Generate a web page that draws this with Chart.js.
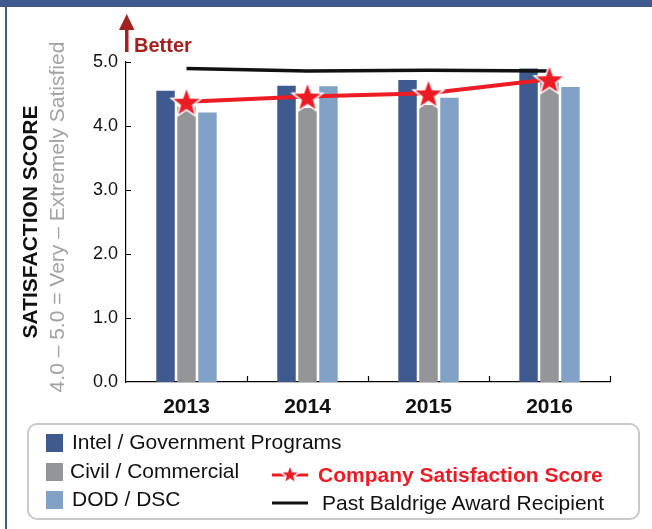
<!DOCTYPE html>
<html>
<head>
<meta charset="utf-8">
<script src="https://cdn.jsdelivr.net/npm/chart.js@4.4.1/dist/chart.umd.min.js"></script>
<style>
  body { margin: 0; background: #fff; font-family: "Liberation Sans", Arial, sans-serif; }
  #wrap { position: relative; width: 652px; height: 529px; overflow: hidden; }
  #topband { position: absolute; left: 0; top: 0; width: 652px; height: 7px; background: #3f5a8e; }
  #leftline { position: absolute; left: 5px; top: 0; width: 2px; height: 529px; background: #3f5a8e; }
  #legend { position: absolute; left: 27px; top: 423px; width: 609px; height: 93px;
            border: 2px solid #c9c9c9; border-radius: 10px; }
  .item { position: absolute; font-size: 21px; line-height: 24px; white-space: nowrap; color: #111; }
  .swatch { position: absolute; width: 17px; height: 18px; }
</style>
</head>
<body>
<div id="wrap">
  <canvas id="chart" width="652" height="529"></canvas>
  <div id="topband"></div>
  <div id="leftline"></div>
  <div id="legend"></div>
</div>
<script>
// Données
const years = ['2013', '2014', '2015', '2016'];
const intelGov = [4.55, 4.63, 4.72, 4.90];
const civilCommercial = [4.30, 4.28, 4.33, 4.69];
const dodDsc = [4.21, 4.62, 4.44, 4.61];
const companyScore = [4.38, 4.46, 4.51, 4.73];
const baldrigeRecipient = [4.90, 4.86, 4.87, 4.86];
const yTicks = [0, 1, 2, 3, 4, 5];

const FONT = '"Liberation Sans", Arial, sans-serif';
const RED = '#ed1c24';

// Étoile rouge avec contour blanc pour les points
function makeStar(outer, inner) {
  const c = document.createElement('canvas');
  const size = outer * 2 + 4;
  c.width = size; c.height = size;
  const g = c.getContext('2d');
  g.beginPath();
  for (let i = 0; i < 10; i++) {
    const r = i % 2 === 0 ? outer : inner;
    const a = -Math.PI / 2 + i * Math.PI / 5;
    const px = size / 2 + r * Math.cos(a), py = size / 2 + 1.5 + r * Math.sin(a);
    if (i === 0) g.moveTo(px, py); else g.lineTo(px, py);
  }
  g.closePath();
  g.fillStyle = RED;
  g.fill();
  g.lineWidth = 1.5;
  g.strokeStyle = '#fff';
  g.stroke();
  return c;
}
const starImg = makeStar(16, 6.6);

// Titres, flèche "Better" et petites graduations vers l'intérieur
const decorations = {
  id: 'decorations',
  afterDraw(chart) {
    const ctx = chart.ctx;
    const x = chart.scales.x, y = chart.scales.y;
    const area = chart.chartArea;
    ctx.save();
    ctx.strokeStyle = '#000';
    ctx.lineWidth = 1.2;
    ctx.beginPath();
    yTicks.forEach(v => {
      if (v === 0) return;
      const py = Math.round(y.getPixelForValue(v)) + 0.5;
      ctx.moveTo(area.left, py);
      ctx.lineTo(area.left + 5, py);
    });
    for (let i = 0; i < years.length; i++) {
      const px = Math.round(x.getPixelForValue(i) + (x.getPixelForValue(1) - x.getPixelForValue(0)) / 2) + 0.5;
      ctx.moveTo(px, area.bottom);
      ctx.lineTo(px, area.bottom - 6);
    }
    ctx.stroke();

    // titres de l'axe Y
    ctx.textAlign = 'center';
    ctx.textBaseline = 'middle';
    ctx.translate(31, 222);
    ctx.rotate(-Math.PI / 2);
    ctx.font = 'bold 21px ' + FONT;
    ctx.fillStyle = '#111';
    ctx.fillText('SATISFACTION SCORE', 0, 0);
    ctx.setTransform(1, 0, 0, 1, 0, 0);
    ctx.translate(58, 217);
    ctx.rotate(-Math.PI / 2);
    ctx.font = '21px ' + FONT;
    ctx.fillStyle = '#a3a3a3';
    ctx.fillText('4.0 \u2013 5.0 = Very \u2013 Extremely Satisfied', 0, 0);
    ctx.setTransform(1, 0, 0, 1, 0, 0);

    // flèche "Better"
    ctx.fillStyle = '#a5211f';
    ctx.fillRect(125, 28, 3.5, 24);
    ctx.beginPath();
    ctx.moveTo(119, 30);
    ctx.lineTo(134.5, 30);
    ctx.lineTo(126.7, 14);
    ctx.closePath();
    ctx.fill();
    ctx.font = 'bold 20px ' + FONT;
    ctx.textAlign = 'left';
    ctx.textBaseline = 'alphabetic';
    ctx.fillText('Better', 134, 52);
    ctx.restore();
  }
};

const config = {
  type: 'bar',
  data: {
    labels: years,
    datasets: [
      {
        type: 'line',
        label: 'Company Satisfaction Score',
        data: companyScore,
        borderColor: RED,
        borderWidth: 4,
        pointStyle: starImg,
        pointRadius: 16,
        order: 1
      },
      {
        type: 'line',
        label: 'Past Baldrige Award Recipient',
        data: baldrigeRecipient,
        borderColor: '#111',
        borderWidth: 3.5,
        pointRadius: 0,
        order: 2
      },
      { label: 'Intel / Government Programs', data: intelGov, backgroundColor: '#3f5a8e', order: 3 },
      { label: 'Civil / Commercial', data: civilCommercial, backgroundColor: '#939598', order: 3 },
      { label: 'DOD / DSC', data: dodDsc, backgroundColor: '#81a1c7', order: 3 }
    ]
  },
  options: {
    responsive: false,
    animation: false,
    categoryPercentage: 0.52,
    barPercentage: 0.88,
    layout: { padding: { top: 62, right: 42, left: 0, bottom: 0 } },
    plugins: {
      legend: { display: false },
      tooltip: { enabled: false }
    },
    scales: {
      x: {
        grid: { display: false, drawTicks: false },
        border: { display: true, color: '#000', width: 1.2 },
        ticks: { color: '#111', font: { family: FONT, size: 21, weight: 'bold' }, padding: 13 },
        afterFit(scale) { scale.height = 147; }
      },
      y: {
        min: 0,
        max: 5,
        grid: { display: false, drawTicks: false },
        border: { display: true, color: '#000', width: 1.2 },
        afterBuildTicks(scale) { scale.ticks = yTicks.map(v => ({ value: v })); },
        ticks: {
          color: '#111',
          font: { family: FONT, size: 18 },
          padding: 8,
          callback: v => v.toFixed(1)
        },
        afterFit(scale) { scale.width = 126; }
      }
    }
  },
  plugins: [decorations]
};

const chart = new Chart(document.getElementById('chart').getContext('2d'), config);

// Légende construite à partir des jeux de données
function buildLegend() {
  const box = document.getElementById('legend');
  const ds = chart.data.datasets;
  const bars = ds.filter(d => d.type !== 'line');
  bars.forEach((d, i) => {
    const sw = document.createElement('div');
    sw.className = 'swatch';
    sw.style.left = '17px';
    sw.style.top = (9 + i * 28.5) + 'px';
    sw.style.background = d.backgroundColor;
    box.appendChild(sw);
    const t = document.createElement('div');
    t.className = 'item';
    t.style.left = (i === 1 ? 41 : 43) + 'px';
    t.style.top = (5 + i * 28.5) + 'px';
    t.textContent = d.label;
    box.appendChild(t);
  });
  const lines = ds.filter(d => d.type === 'line');
  lines.forEach((d, i) => {
    const top = 38 + i * 28;
    const ic = document.createElement('canvas');
    ic.width = 40; ic.height = 30;
    ic.style.position = 'absolute';
    ic.style.left = '241px';
    ic.style.top = (top - 3) + 'px';
    const g = ic.getContext('2d');
    g.strokeStyle = d.borderColor;
    g.lineWidth = 3;
    g.beginPath();
    g.moveTo(2, 15); g.lineTo(38, 15);
    g.stroke();
    if (d.pointStyle instanceof HTMLCanvasElement) {
      const s = makeStar(10, 4.2);
      g.drawImage(s, 20 - s.width / 2, 13.5 - s.height / 2);
    }
    box.appendChild(ic);
    const t = document.createElement('div');
    t.className = 'item';
    t.style.left = (i === 0 ? 289 : 293) + 'px';
    t.style.top = top + 'px';
    t.textContent = d.label;
    if (i === 0) { t.style.color = RED; t.style.fontWeight = 'bold'; }
    box.appendChild(t);
  });
}
buildLegend();
</script>
</body>
</html>
